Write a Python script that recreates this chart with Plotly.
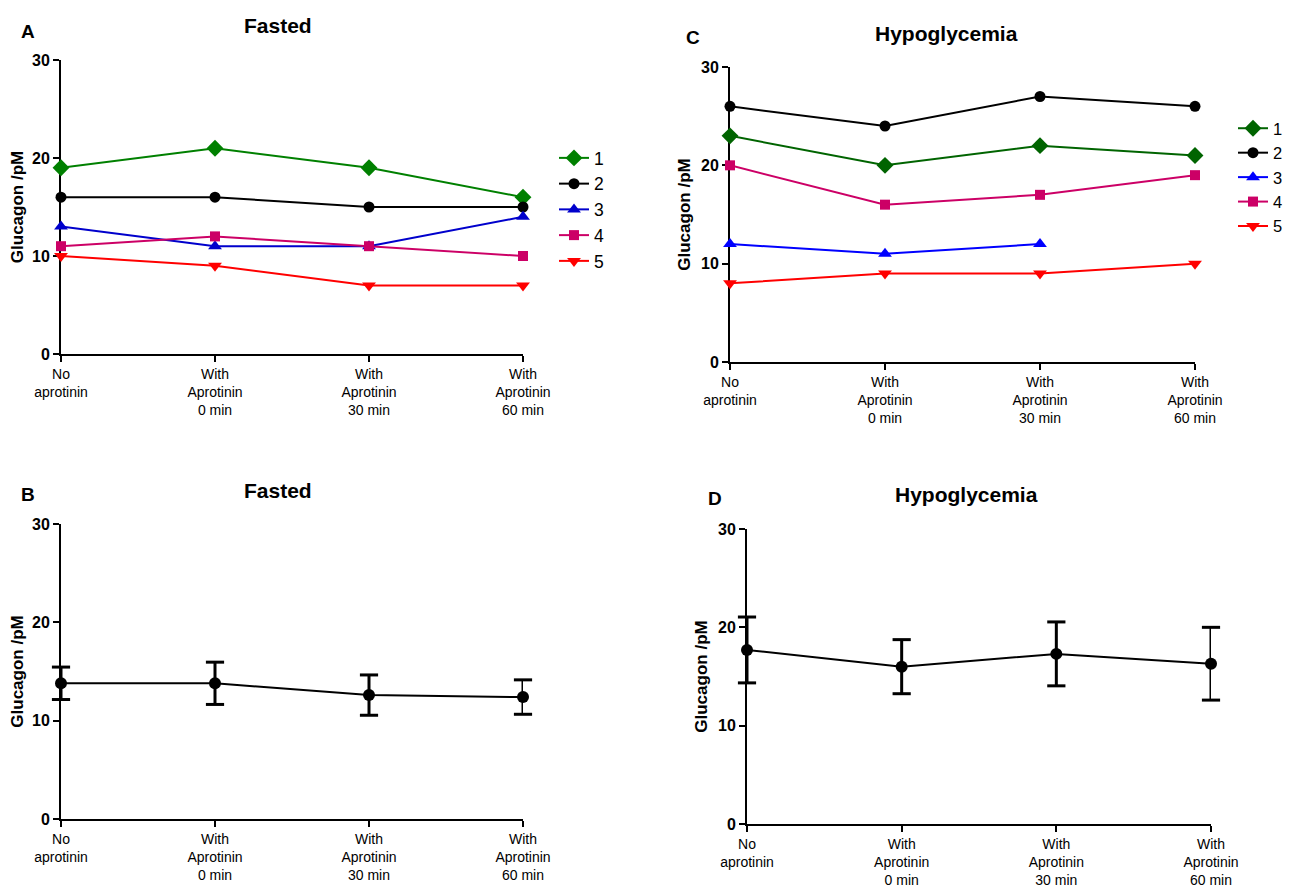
import plotly.graph_objects as go

# The page body adds an 8px margin, so the figure is drawn 8px smaller and offset.
PAGE_W, PAGE_H = 1294, 887
OFF = 8
W, H = PAGE_W - OFF, PAGE_H - OFF

categories = ["No<br>aprotinin", "With<br>Aprotinin<br>0 min", "With<br>Aprotinin<br>30 min", "With<br>Aprotinin<br>60 min"]
xpos = [0, 1, 2, 3]
y_ticks = [0, 10, 20, 30]

# Panel A: Fasted, individual subjects
fasted_1 = [19, 21, 19, 16]
fasted_2 = [16, 16, 15, 15]
fasted_3 = [13, 11, 11, 14]
fasted_4 = [11, 12, 11, 10]
fasted_5 = [10, 9, 7, 7]

# Panel C: Hypoglycemia, individual subjects
hypo_1 = [23, 20, 22, 21]
hypo_2 = [26, 24, 27, 26]
hypo_3 = [12, 11, 12, None]
hypo_4 = [20, 16, 17, 19]
hypo_5 = [8, 9, 9, 10]

# Panel B: Fasted mean +/- SEM
fasted_mean = [13.8, 13.8, 12.6, 12.4]
fasted_err = [1.65, 2.15, 2.05, 1.75]

# Panel D: Hypoglycemia mean +/- SEM
hypo_mean = [17.7, 16.0, 17.3, 16.3]
hypo_err = [3.35, 2.75, 3.25, 3.7]

subjects = ["1", "2", "3", "4", "5"]
colors_A = ["#008000", "#000000", "#0000CC", "#CC0066", "#FF0000"]
colors_C = ["#006400", "#000000", "#0000FF", "#CC0066", "#FF0000"]
symbols = ["diamond", "circle", "triangle-up", "square", "triangle-down"]
sizes = [13, 11, 12, 10, 12]

FONT = "Liberation Sans, Arial, Helvetica, sans-serif"

fig = go.Figure()

def px_x(p):
    return (p - OFF) / W

def px_y(p):
    return 1 - (p - OFF) / H

# panel plot areas in page pixels
panels = {
    "A": dict(x=(61, 523), y=(60, 354)),
    "C": dict(x=(730, 1195), y=(67, 362)),
    "B": dict(x=(61, 523), y=(524, 819)),
    "D": dict(x=(747, 1211), y=(529, 824)),
}
axis_ids = {"A": ("x", "y"), "C": ("x2", "y2"), "B": ("x3", "y3"), "D": ("x4", "y4")}

for key, (xa, ya) in axis_ids.items():
    p = panels[key]
    xname = "xaxis" if xa == "x" else "xaxis" + xa[1:]
    yname = "yaxis" if ya == "y" else "yaxis" + ya[1:]
    fig.layout[xname] = dict(
        domain=[px_x(p["x"][0]), px_x(p["x"][1])],
        anchor=ya,
        range=[0, 3],
        tickmode="array", tickvals=xpos, ticktext=categories,
        showline=True, linecolor="black", linewidth=2,
        ticks="outside", ticklen=6, tickwidth=2, tickcolor="black",
        showgrid=False, zeroline=False, layer="below traces",
        tickfont=dict(family=FONT, size=14, color="black"),
        automargin=False, fixedrange=True,
    )
    fig.layout[yname] = dict(
        domain=[px_y(p["y"][1]), px_y(p["y"][0])],
        anchor=xa,
        range=[0, 30],
        tickmode="array", tickvals=y_ticks, ticktext=[f"<b>{t}</b>" for t in y_ticks],
        showline=True, linecolor="black", linewidth=2,
        ticks="outside", ticklen=6, tickwidth=2, tickcolor="black",
        showgrid=False, zeroline=False, layer="below traces",
        tickfont=dict(family=FONT, size=16, color="black"),
        title=dict(text="<b>Glucagon /pM</b>", font=dict(family=FONT, size=17, color="black"), standoff=6),
        automargin=False, fixedrange=True,
    )

series_A = [fasted_1, fasted_2, fasted_3, fasted_4, fasted_5]
series_C = [hypo_1, hypo_2, hypo_3, hypo_4, hypo_5]

for i, (name, vals) in enumerate(zip(subjects, series_A)):
    fig.add_trace(go.Scatter(
        x=xpos, y=vals, name=name, mode="lines+markers",
        line=dict(color=colors_A[i], width=2),
        marker=dict(symbol=symbols[i], size=sizes[i], color=colors_A[i]),
        xaxis="x", yaxis="y", legend="legend", cliponaxis=False,
    ))

for i, (name, vals) in enumerate(zip(subjects, series_C)):
    fig.add_trace(go.Scatter(
        x=xpos, y=vals, name=name, mode="lines+markers",
        line=dict(color=colors_C[i], width=2),
        marker=dict(symbol=symbols[i], size=sizes[i], color=colors_C[i]),
        xaxis="x2", yaxis="y2", legend="legend2", cliponaxis=False,
    ))

def mean_panel(means, errs, xa, ya):
    # stems via error bars (no caps, which would be clipped at the plot edge)
    fig.add_trace(go.Scatter(
        x=xpos, y=means, mode="lines+markers", showlegend=False,
        line=dict(color="black", width=2),
        marker=dict(symbol="circle", size=12, color="black"),
        error_y=dict(type="data", array=errs, visible=True, color="black", thickness=3, width=0),
        xaxis=xa, yaxis=ya, cliponaxis=False,
    ))
    # caps drawn as unclipped line markers at mean +/- error
    cap_x = xpos + xpos
    cap_y = [m + e for m, e in zip(means, errs)] + [m - e for m, e in zip(means, errs)]
    fig.add_trace(go.Scatter(
        x=cap_x, y=cap_y, mode="markers", showlegend=False, hoverinfo="skip",
        marker=dict(symbol="line-ew", size=13, line=dict(color="black", width=3)),
        xaxis=xa, yaxis=ya, cliponaxis=False,
    ))

mean_panel(fasted_mean, fasted_err, "x3", "y3")
mean_panel(hypo_mean, hypo_err, "x4", "y4")

annotations = []
titles = [("Fasted", 278, 25), ("Hypoglycemia", 946, 33), ("Fasted", 278, 490), ("Hypoglycemia", 966, 494)]
for txt, x, y in titles:
    annotations.append(dict(text=f"<b>{txt}</b>", x=px_x(x), y=px_y(y), xref="paper", yref="paper",
                            xanchor="center", yanchor="middle", showarrow=False,
                            font=dict(family=FONT, size=21, color="black")))
letters = [("A", 28, 31), ("C", 693, 37), ("B", 28, 494), ("D", 715, 499)]
for txt, x, y in letters:
    annotations.append(dict(text=f"<b>{txt}</b>", x=px_x(x), y=px_y(y), xref="paper", yref="paper",
                            xanchor="center", yanchor="middle", showarrow=False,
                            font=dict(family=FONT, size=19, color="black")))

fig.update_layout(
    width=W, height=H,
    margin=dict(l=0, r=0, t=0, b=0),
    paper_bgcolor="white", plot_bgcolor="white",
    annotations=annotations,
    legend=dict(x=px_x(554), y=px_y(140), xanchor="left", yanchor="top",
                font=dict(family=FONT, size=17.5, color="black"), bgcolor="rgba(0,0,0,0)"),
    legend2=dict(x=px_x(1233), y=px_y(111), xanchor="left", yanchor="top",
                 font=dict(family=FONT, size=16.5, color="black"), bgcolor="rgba(0,0,0,0)"),
    showlegend=True,
)

fig.write_html("out.html")
